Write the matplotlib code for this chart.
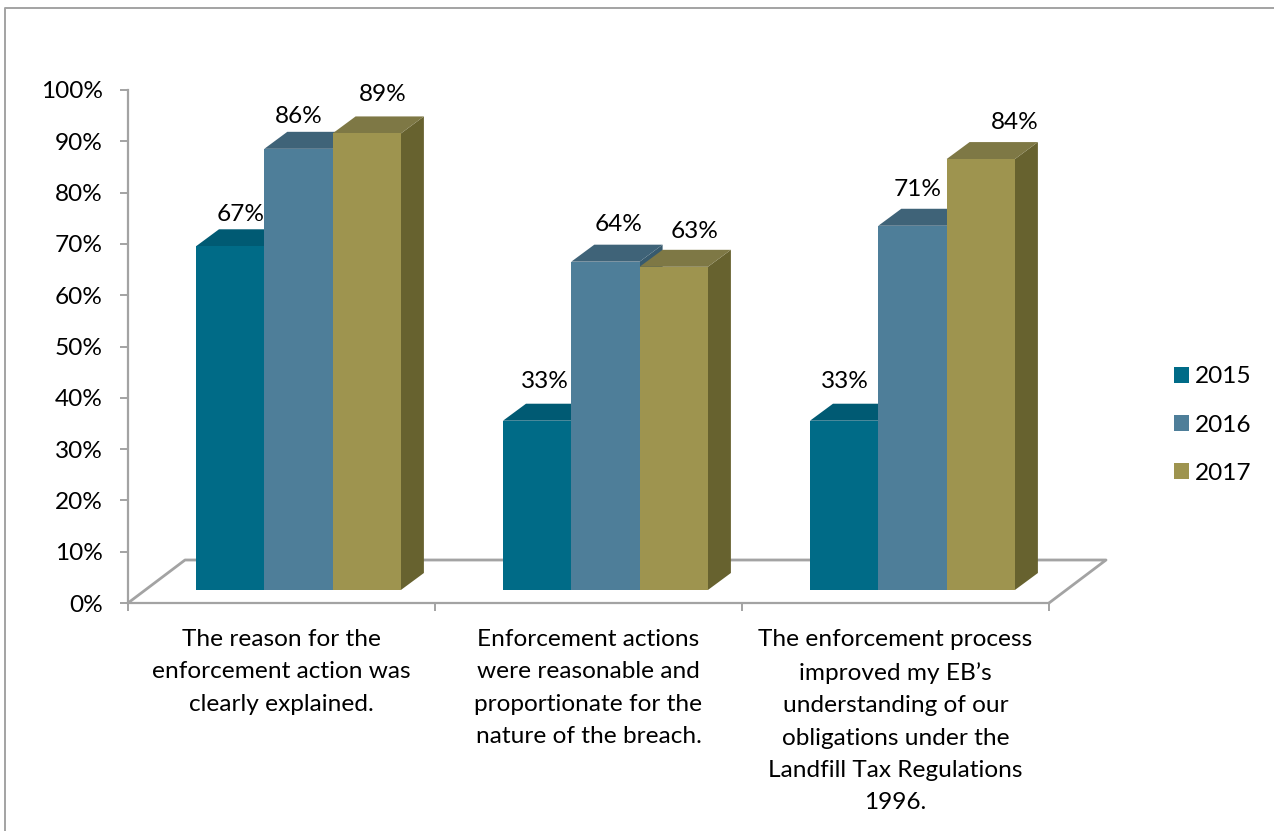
import matplotlib

matplotlib.use("Agg")
import matplotlib.pyplot as plt
from matplotlib.patches import Patch

W, H = 1274, 831

categories = [
    "The reason for the\nenforcement action was\nclearly explained.",
    "Enforcement actions\nwere reasonable and\nproportionate for the\nnature of the breach.",
    "The enforcement process\nimproved my EB\u2019s\nunderstanding of our\nobligations under the\nLandfill Tax Regulations\n1996.",
]
years = ["2015", "2016", "2017"]
values_2015 = [67, 33, 33]
values_2016 = [86, 64, 71]
values_2017 = [89, 63, 84]
y_ticks = [0, 10, 20, 30, 40, 50, 60, 70, 80, 90, 100]

FRONT = ["#006b87", "#4e7e99", "#9e944f"]
TOP = ["#005a73", "#3f6378", "#7e7845"]
SIDE = ["#004f66", "#375a6e", "#67622f"]
AXIS_GREY = "#a3a3a3"

# Plot box in pixels
LEFT, RIGHT, Y0, Y100 = 128, 1049, 603, 90
PX_X = 3 / (RIGHT - LEFT)
PX_Y = 100 / (Y0 - Y100)

# Depth of the bars and of the floor, in data units
BAR_DX, BAR_DY = 23 * PX_X, 17 * PX_Y
FLOOR_DX, FLOOR_DY = 57 * PX_X, 43 * PX_Y
BAR_BASE = 13 * PX_Y
BAR_W = 68.3 * PX_X
GROUP_START = 68 * PX_X

# Label shifts (px right, px above the back edge of the bar top)
LABEL_X = [[10, 0, 16], [8, 13, 21], [1, 5, 34]]
LABEL_Y = [[15, 15, 22], [22, 20, 18], [22, 19, 20]]


def main() -> None:
    plt.rcParams["font.family"] = ["Lato", "DejaVu Sans"]
    plt.rcParams["font.size"] = 17.6

    fig = plt.figure(figsize=(W / 100, H / 100), dpi=100)
    ax = fig.add_axes(
        [LEFT / W, 1 - Y0 / H, (RIGHT - LEFT) / W, (Y0 - Y100) / H]
    )
    ax.set_xlim(0, 3)
    ax.set_ylim(0, 100)
    ax.patch.set_visible(False)

    # Outer frame of the chart, open on the right and at the bottom
    fig.add_artist(
        plt.Line2D(
            [5 / W, 5 / W, 1],
            [0, 1 - 8 / H, 1 - 8 / H],
            color=AXIS_GREY,
            lw=1.4,
        )
    )

    for side in ["top", "right"]:
        ax.spines[side].set_visible(False)
    for side in ["left", "bottom"]:
        ax.spines[side].set_color(AXIS_GREY)
        ax.spines[side].set_linewidth(1.6)

    # Floor outline
    ax.plot(
        [0, FLOOR_DX, 3 + FLOOR_DX, 3],
        [0, FLOOR_DY, FLOOR_DY, 0],
        color=AXIS_GREY,
        lw=2,
        clip_on=False,
        zorder=1,
    )

    series = [values_2015, values_2016, values_2017]
    for c in range(len(categories)):
        for s, vals in enumerate(series):
            x0 = c + GROUP_START + s * BAR_W
            x1 = x0 + BAR_W
            top = BAR_BASE + vals[c]
            # Side and top faces, then the front
            ax.fill(
                [x1, x1 + BAR_DX, x1 + BAR_DX, x1],
                [BAR_BASE, BAR_BASE + BAR_DY, top + BAR_DY, top],
                color=SIDE[s],
                lw=0,
                clip_on=False,
                zorder=2,
            )
            ax.fill(
                [x0, x0 + BAR_DX, x1 + BAR_DX, x1],
                [top, top + BAR_DY, top + BAR_DY, top],
                color=TOP[s],
                lw=0,
                clip_on=False,
                zorder=2,
            )
            ax.bar(
                x0,
                vals[c],
                width=BAR_W,
                bottom=BAR_BASE,
                align="edge",
                color=FRONT[s],
                lw=0,
                clip_on=False,
                zorder=2,
            )
            ax.annotate(
                f"{vals[c]}%",
                (x0 + BAR_W / 2, top + BAR_DY),
                xytext=(LABEL_X[c][s] * 0.72, LABEL_Y[c][s] * 0.72),
                textcoords="offset points",
                ha="center",
                va="center",
                color="black",
                zorder=5,
            )

    ax.set_yticks(y_ticks)
    ax.set_yticklabels([f"{t}%" for t in y_ticks])
    ax.set_xticks([0, 1, 2, 3])
    ax.set_xticklabels([])
    ax.tick_params(axis="both", color=AXIS_GREY, width=1.4, length=6)
    ax.tick_params(axis="y", pad=12)

    for c, label in enumerate(categories):
        ax.text(
            c + 0.5,
            (Y0 - 629) * PX_Y,
            label,
            ha="center",
            va="top",
            linespacing=1.67,
            clip_on=False,
        )

    handles = [Patch(color=FRONT[i], lw=0) for i in range(3)]
    fig.legend(
        handles,
        years,
        loc="center left",
        bbox_to_anchor=(1152 / W, 1 - 425 / H),
        frameon=False,
        handlelength=0.62,
        handleheight=0.62,
        handletextpad=0.25,
        labelspacing=1.11,
    )

    fig.savefig("out.png", dpi=100)


if __name__ == "__main__":
    main()
